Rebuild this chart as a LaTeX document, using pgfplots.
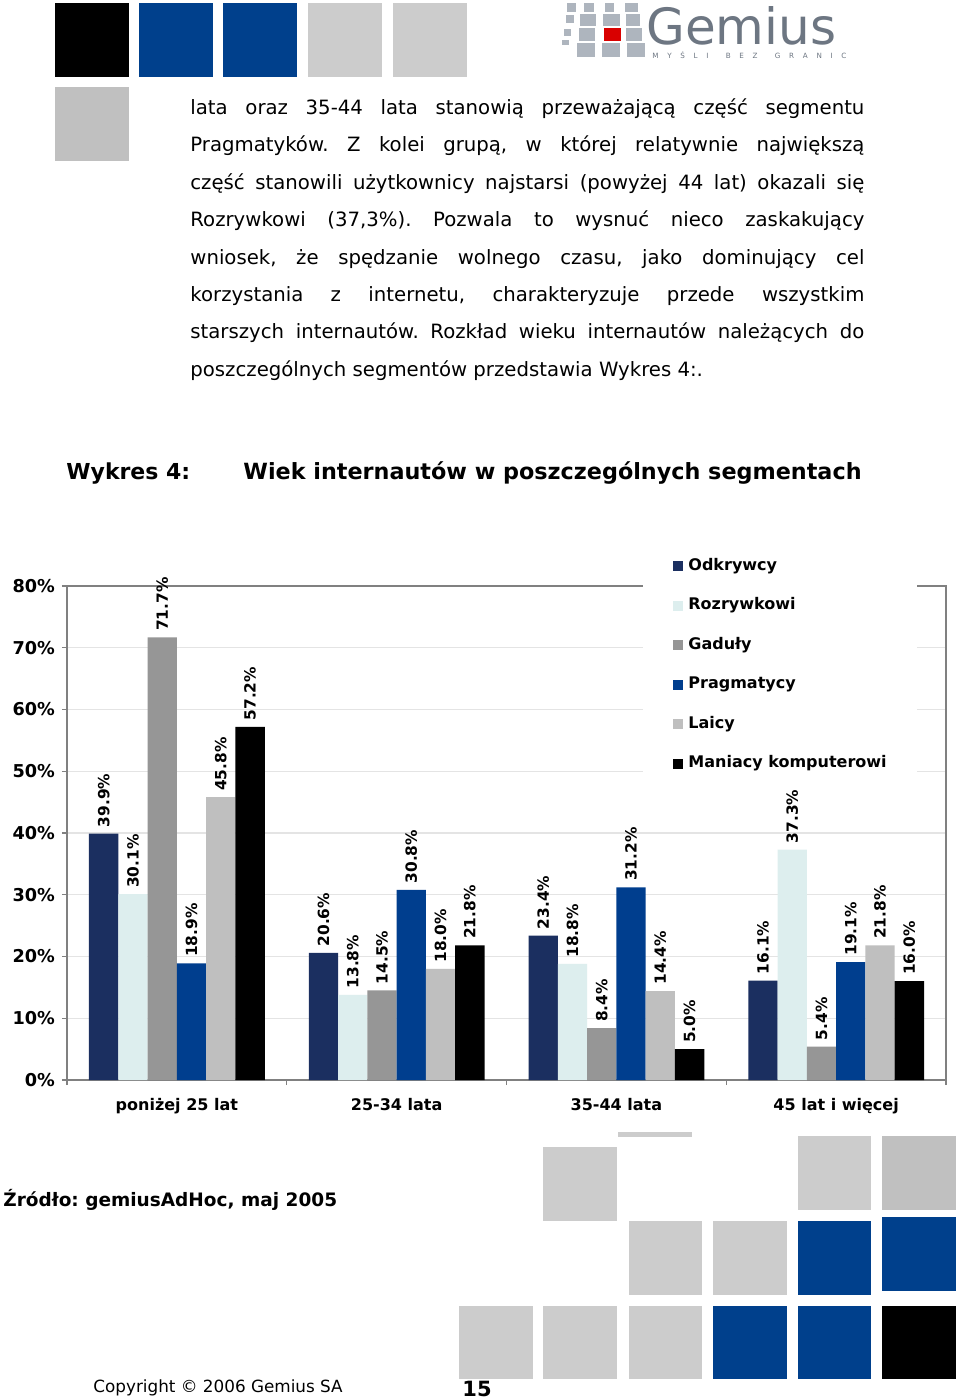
\documentclass[border=0pt]{standalone}
\usepackage{fontspec}
\setmainfont{DejaVu Sans}
\usepackage{pgfplots}
\usepackage{pgfplotstable}
\pgfplotsset{compat=1.18}
\definecolor{cOdk}{HTML}{1B2F60}
\definecolor{cRoz}{HTML}{DDEEEE}
\definecolor{cGad}{HTML}{969696}
\definecolor{cPra}{HTML}{003E8E}
\definecolor{cLai}{HTML}{BFBFBF}
\definecolor{cMan}{HTML}{000000}
\definecolor{sqBlue}{HTML}{00408C}
\definecolor{sqGray}{HTML}{CCCCCC}
\definecolor{sqGrayB}{HTML}{C0C0C0}
\definecolor{logoGray}{HTML}{6D7682}
\definecolor{logoSq}{HTML}{AEB5BE}
\definecolor{axGray}{HTML}{808080}
\definecolor{grGray}{HTML}{E4E4E4}

\pgfplotstableread{
x odk roz gad pra lai man
0 39.9 30.1 71.7 18.9 45.8 57.2
1 20.6 13.8 14.5 30.8 18.0 21.8
2 23.4 18.8 8.4 31.2 14.4 5.0
3 16.1 37.3 5.4 19.1 21.8 16.0
}\datatable

\newcommand\bodyfont{\fontsize{9.85}{12}\selectfont}
\newcommand\bline[2]{\node[anchor=base west, inner sep=0pt, font=\bodyfont] at (190,#1) {\makebox[337pt][s]{#2}};}

\begin{document}
\frenchspacing
\begin{tikzpicture}[x=0.5pt,y=-0.5pt]
\useasboundingbox (0,0) rectangle (960,1400);
\fill[white] (0,0) rectangle (960,1400);

% top decorative squares
\fill[black]   (55,3) rectangle (129,77);
\fill[sqBlue]  (139,3) rectangle (213,77);
\fill[sqBlue]  (223,3) rectangle (297,77);
\fill[sqGray]  (308,3) rectangle (382,77);
\fill[sqGray]  (393,3) rectangle (467,77);
\fill[sqGrayB] (55,87) rectangle (129,161);

% logo
\foreach \a/\b/\c/\d in {567/3/576/12, 584/3/594/12, 605/3/614/12, 625/3/638/12,
  566/15/574/23, 580/14/596/26, 603/14/620/26, 626/14/640/26,
  564/29/571/36, 579/28/595/41, 626/28/642/41,
  562/40/569/45, 577/43/595/57, 602/43/620/57, 627/43/645/57}
  {\fill[logoSq] (\a,\b) rectangle (\c,\d);}
\fill[red!85!black] (604,28) rectangle (621,41);
\node[anchor=base west, inner sep=0pt, text depth=0pt, text=logoGray, font=\fontsize{25}{27}\selectfont] at (646,45) {Gemius};
\node[anchor=base west, inner sep=0pt, text height=2.6pt, text depth=0pt, text=logoGray, font=\fontsize{3.6}{4}\selectfont] at (652,59)
  {\makebox[97pt][s]{M Y Ś L I \ B E Z \ G R A N I C}};

% body text
\bline{114.3}{lata oraz 35-44 lata stanowią przeważającą część segmentu}
\bline{151.7}{Pragmatyków. Z kolei grupą, w której relatywnie największą}
\bline{189.2}{część stanowili użytkownicy najstarsi (powyżej 44 lat) okazali się}
\bline{226.6}{Rozrywkowi (37,3\%). Pozwala to wysnuć nieco zaskakujący}
\bline{264.1}{wniosek, że spędzanie wolnego czasu, jako dominujący cel}
\bline{301.5}{korzystania z internetu, charakteryzuje przede wszystkim}
\bline{339.0}{starszych internautów. Rozkład wieku internautów należących do}
\node[anchor=base west, inner sep=0pt, font=\bodyfont] at (190,376.4) {poszczególnych segmentów przedstawia Wykres 4:.};

% title
\node[anchor=base west, inner sep=0pt, font=\bfseries\fontsize{11}{13}\selectfont] at (66,480) {Wykres 4:};
\node[anchor=base west, inner sep=0pt, font=\bfseries\fontsize{11.15}{13}\selectfont] at (243,480) {Wiek internautów w poszczególnych segmentach};

% chart
\begin{axis}[
  at={(33.5pt,-540pt)}, anchor=south west,
  scale only axis, width=439.5pt, height=247pt,
  xmin=-0.5, xmax=3.5, ymin=0, ymax=80,
  ybar=0pt, bar width=0.1333,
  ytick={0,10,...,80},
  yticklabel={\pgfmathprintnumber{\tick}\%},
  /pgf/number format/assume math mode=true,
  ticklabel style={font=\bfseries\fontsize{8.85}{10}\selectfont},
  ymajorgrids, grid style={draw=grGray, line width=0.6pt},
  xtick={-0.5,0.5,1.5,2.5,3.5}, xticklabels={},
  xtick pos=lower, ytick pos=left,
  extra x ticks={0,1,2,3},
  extra x tick labels={poniżej 25 lat, 25-34 lata, 35-44 lata, 45 lat i więcej},
  extra x tick style={major tick length=0pt, xticklabel style={font=\bfseries\fontsize{8}{10}\selectfont, anchor=base, yshift=-15pt}},
  tick align=outside, major tick length=2.5pt,
  axis line style={draw=axGray, line width=0.6pt},
  tick style={draw=axGray, line width=0.6pt},
  nodes near coords={\pgfmathprintnumber[fixed,fixed zerofill,precision=1]{\pgfplotspointmeta}\%},
  every node near coord/.append style={rotate=90, anchor=west, inner xsep=3pt, inner ysep=0pt, font=\bfseries\fontsize{7.7}{9}\selectfont, text=black},
  legend style={at={(0.6553,1.0688)}, anchor=north west, draw=none, fill=white,
    inner xsep=15pt, inner ysep=3pt, row sep=11.75pt, column sep=2.5pt,
    font=\bfseries\fontsize{8}{9}\selectfont,
    nodes={inner sep=0pt, text height=6pt, text depth=2pt}},
  legend cell align=left,
  legend image code/.code={\fill[#1] (0pt,-2.5pt) rectangle (5pt,2.5pt);},
]
\addplot[fill=cOdk, draw=none] table[x=x,y=odk]{\datatable};
\addplot[fill=cRoz, draw=none] table[x=x,y=roz]{\datatable};
\addplot[fill=cGad, draw=none] table[x=x,y=gad]{\datatable};
\addplot[fill=cPra, draw=none] table[x=x,y=pra]{\datatable};
\addplot[fill=cLai, draw=none] table[x=x,y=lai]{\datatable};
\addplot[fill=cMan, draw=none] table[x=x,y=man]{\datatable};
\legend{Odkrywcy, Rozrywkowi, Gaduły, Pragmatycy, Laicy, Maniacy komputerowi}
\end{axis}

% source
\node[anchor=base west, inner sep=0pt, font=\bfseries\fontsize{9.25}{11}\selectfont] at (3,1206) {Źródło: gemiusAdHoc, maj 2005};

% bottom squares
\fill[sqGray]  (618,1132) rectangle (692,1137);
\fill[sqGray]  (543,1147) rectangle (617,1221);
\fill[sqGray]  (798,1136) rectangle (871,1210);
\fill[sqGrayB] (882,1136) rectangle (956,1210);
\fill[sqGray]  (629,1221) rectangle (702,1295);
\fill[sqGray]  (713,1221) rectangle (787,1295);
\fill[sqBlue]  (798,1221) rectangle (871,1295);
\fill[sqBlue]  (882,1217) rectangle (956,1291);
\fill[sqGray]  (459,1306) rectangle (533,1379);
\fill[sqGray]  (543,1306) rectangle (617,1379);
\fill[sqGray]  (629,1306) rectangle (702,1379);
\fill[sqBlue]  (713,1306) rectangle (787,1379);
\fill[sqBlue]  (798,1306) rectangle (871,1379);
\fill[black]   (882,1306) rectangle (956,1379);

% footer
\node[anchor=base west, inner sep=0pt, font=\fontsize{8.4}{10}\selectfont] at (93,1392.7) {Copyright © 2006 Gemius SA};
\node[anchor=base west, inner sep=0pt, font=\bfseries\fontsize{10.5}{12}\selectfont] at (462,1396.5) {15};
\end{tikzpicture}
\end{document}
